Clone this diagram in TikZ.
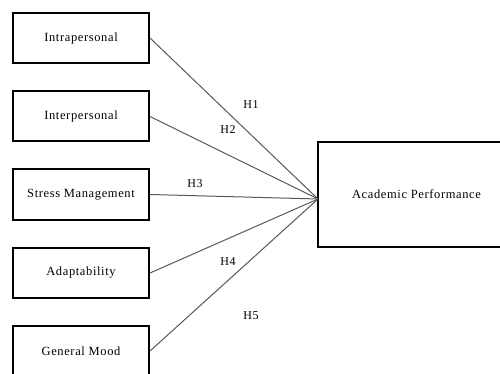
\documentclass[tikz,border=0pt]{standalone}
\usepackage{fontspec}
\setmainfont[LetterSpace=5]{Liberation Serif}
\begin{document}
\begin{tikzpicture}[x=1pt,y=-1pt,
  box/.style={draw=black,line width=2pt,minimum width=136pt,minimum height=50pt,inner sep=0pt,font=\fontsize{12.5}{14}\selectfont},
  link/.style={draw=black!65,line width=1pt},
  hlab/.style={font=\fontsize{12}{14}\selectfont,inner sep=0pt}]
\clip (0,0) rectangle (500,374);
\fill[white] (0,0) rectangle (500,374);
\node[box] (intra) at (81,38) {Intrapersonal};
\node[box] (inter) at (81,116.5) {Interpersonal};
\node[box] (stress) at (81,194.5) {Stress Management};
\node[box] (adapt) at (81,273) {Adaptability};
\node[box] (mood) at (81,351) {General Mood};
\node[box,minimum width=197pt,minimum height=105pt] (ap) at (416.5,194.5) {Academic Performance};
\coordinate (conv) at (318,199);
\draw[link] (intra.east) -- (conv);
\draw[link] (inter.east) -- (conv);
\draw[link] (stress.east) -- (conv);
\draw[link] (adapt.east) -- (conv);
\draw[link] (mood.east) -- (conv);
\node[hlab] (h1) at (251,105) {H1};
\node[hlab] (h2) at (228,130) {H2};
\node[hlab] (h3) at (195,184) {H3};
\node[hlab] (h4) at (228,262) {H4};
\node[hlab] (h5) at (251,316) {H5};
\end{tikzpicture}
\end{document}
